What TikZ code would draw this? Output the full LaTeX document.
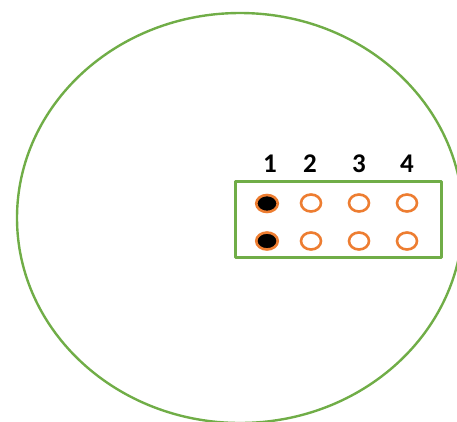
\documentclass[tikz,border=0pt]{standalone}
\usepackage{fontspec}
\setmainfont{Carlito}
\usepackage{tikz}
\usetikzlibrary{positioning,shapes.geometric}
\usepackage{xcolor}
\definecolor{pinsgreen}{HTML}{70AD47}
\definecolor{pinsorange}{HTML}{ED7D31}

\begin{document}
\begin{tikzpicture}[x=1pt,y=-1pt,line join=round,
    pin/.style={draw=pinsorange,line width=2.6pt,ellipse,inner sep=0pt,minimum width=20pt,minimum height=17pt},
    pinon/.style={pin,fill=black,minimum width=21.5pt},
    lbl/.style={font=\fontsize{27}{31}\selectfont\bfseries,inner sep=0pt}]
  \useasboundingbox (0,0) rectangle (457,421);
  \clip (0,0) rectangle (457,421);
  % outer ring
  \draw[pinsgreen,line width=2.4pt] (240,218) ellipse [x radius=223,y radius=205];
  % header box
  \node[draw=pinsgreen,line width=3pt,minimum width=206pt,minimum height=76pt,inner sep=0pt] (header) at (338.5,219.5) {};
  \foreach \i/\x/\lx in {1/267/270,2/311/310,3/359/359,4/407/407}{
    \node[lbl] (num\i) at (\lx,163.5) {\i};
  }
  \node[pinon] (pin1a) at (267,203.5) {};
  \node[pinon] (pin1b) at (267,241) {};
  \foreach \i/\x in {2/311,3/359,4/407}{
    \node[pin] (pin\i a) at (\x,203) {};
    \node[pin] (pin\i b) at (\x,241) {};
  }
\end{tikzpicture}
\end{document}
